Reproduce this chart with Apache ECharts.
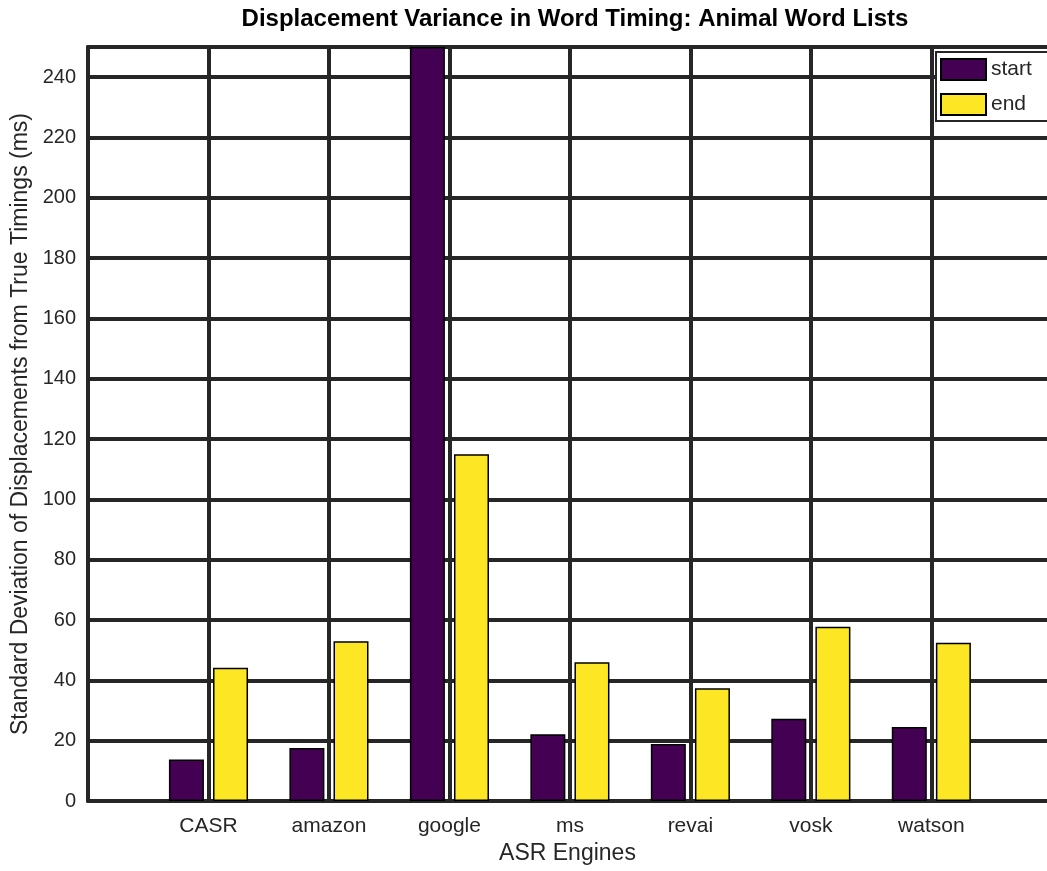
<!DOCTYPE html>
<html>
<head>
<meta charset="utf-8">
<script src="https://cdn.jsdelivr.net/npm/echarts@6/dist/echarts.min.js"></script>
<style>
  html, body { margin: 0; padding: 0; background: #fff; }
  #chart { width: 1047px; height: 871px; }
</style>
</head>
<body>
<div id="chart"></div>
<script>
// ASR engines, placed at positions 1..7 on the x scale (0 is an empty margin)
const engines = ['CASR', 'amazon', 'google', 'ms', 'revai', 'vosk', 'watson'];
// Standard deviation of word start / end displacements (ms)
const startValues = [13.8, 17.6, 250, 22.1, 18.9, 27.3, 24.5];
const endValues = [44.2, 53.0, 115.0, 46.0, 37.4, 57.8, 52.5];
const yTicks = [0, 20, 40, 60, 80, 100, 120, 140, 160, 180, 200, 220, 240];

const ink = '#262626';
const font = '"Liberation Sans", Arial, sans-serif';

const chart = echarts.init(document.getElementById('chart'), null, { renderer: 'canvas' });

chart.setOption({
  animation: false,
  backgroundColor: '#ffffff',
  title: {
    text: 'Displacement Variance in Word Timing: Animal Word Lists',
    left: 570,
    textAlign: 'center',
    top: 2,
    textStyle: { fontFamily: font, fontSize: 24, fontWeight: 'bold', color: '#000' }
  },
  legend: {
    orient: 'vertical',
    left: 936,
    top: 52,
    padding: [6, 60, 5, 4],
    itemWidth: 45,
    itemHeight: 21,
    itemGap: 12,
    icon: 'rect',
    backgroundColor: '#ffffff',
    borderColor: ink,
    borderWidth: 2,
    borderRadius: 0,
    textStyle: { fontFamily: font, fontSize: 21, color: ink, padding: [6, 0, 0, 0] },
    data: ['start', 'end']
  },
  grid: {
    left: 88,
    right: 0,
    top: 47,
    bottom: 70,
    show: false
  },
  xAxis: [
    {
      type: 'value',
      position: 'bottom',
      min: 0,
      max: 7.96,
      interval: 1,
      name: 'ASR Engines',
      nameLocation: 'middle',
      nameGap: 40,
      nameTextStyle: { fontFamily: font, fontSize: 23, color: ink },
      axisLine: { show: true, lineStyle: { color: ink, width: 4 } },
      axisTick: { show: false },
      axisLabel: {
        fontFamily: font,
        fontSize: 21,
        color: ink,
        margin: 15,
        showMaxLabel: false,
        formatter: v => engines[v - 1] || ''
      },
      splitLine: { show: true, showMaxLine: false, lineStyle: { color: ink, width: 4 } }
    },
    {
      // top frame line of the plot box
      type: 'value',
      position: 'top',
      min: 0,
      max: 7.96,
      axisLine: { show: true, lineStyle: { color: ink, width: 4 } },
      axisTick: { show: false },
      axisLabel: { show: false },
      splitLine: { show: false }
    }
  ],
  yAxis: {
    type: 'value',
    min: 0,
    max: 250,
    interval: 20,
    name: 'Standard Deviation of Displacements from True Timings (ms)',
    nameLocation: 'middle',
    nameGap: 55,
    nameTextStyle: { fontFamily: font, fontSize: 23, color: ink },
    axisLine: { show: true, lineStyle: { color: ink, width: 4 } },
    axisTick: { show: false },
    axisLabel: {
      fontFamily: font,
      fontSize: 20,
      color: ink,
      margin: 12,
      formatter: v => (yTicks.indexOf(v) >= 0 ? String(v) : '')
    },
    splitLine: { show: true, lineStyle: { color: ink, width: 4 } }
  },
  series: [
    {
      name: 'start',
      type: 'bar',
      xAxisIndex: 0,
      barWidth: 35,
      barGap: '26%',
      itemStyle: { color: '#440154', borderColor: '#000', borderWidth: 1.5 },
      data: startValues.map((v, i) => [i + 1, v]),
      z: 3
    },
    {
      name: 'end',
      type: 'bar',
      xAxisIndex: 0,
      barWidth: 35,
      barGap: '26%',
      itemStyle: { color: '#fde725', borderColor: '#000', borderWidth: 1.5 },
      data: endValues.map((v, i) => [i + 1, v]),
      z: 3
    }
  ]
});
</script>
</body>
</html>
